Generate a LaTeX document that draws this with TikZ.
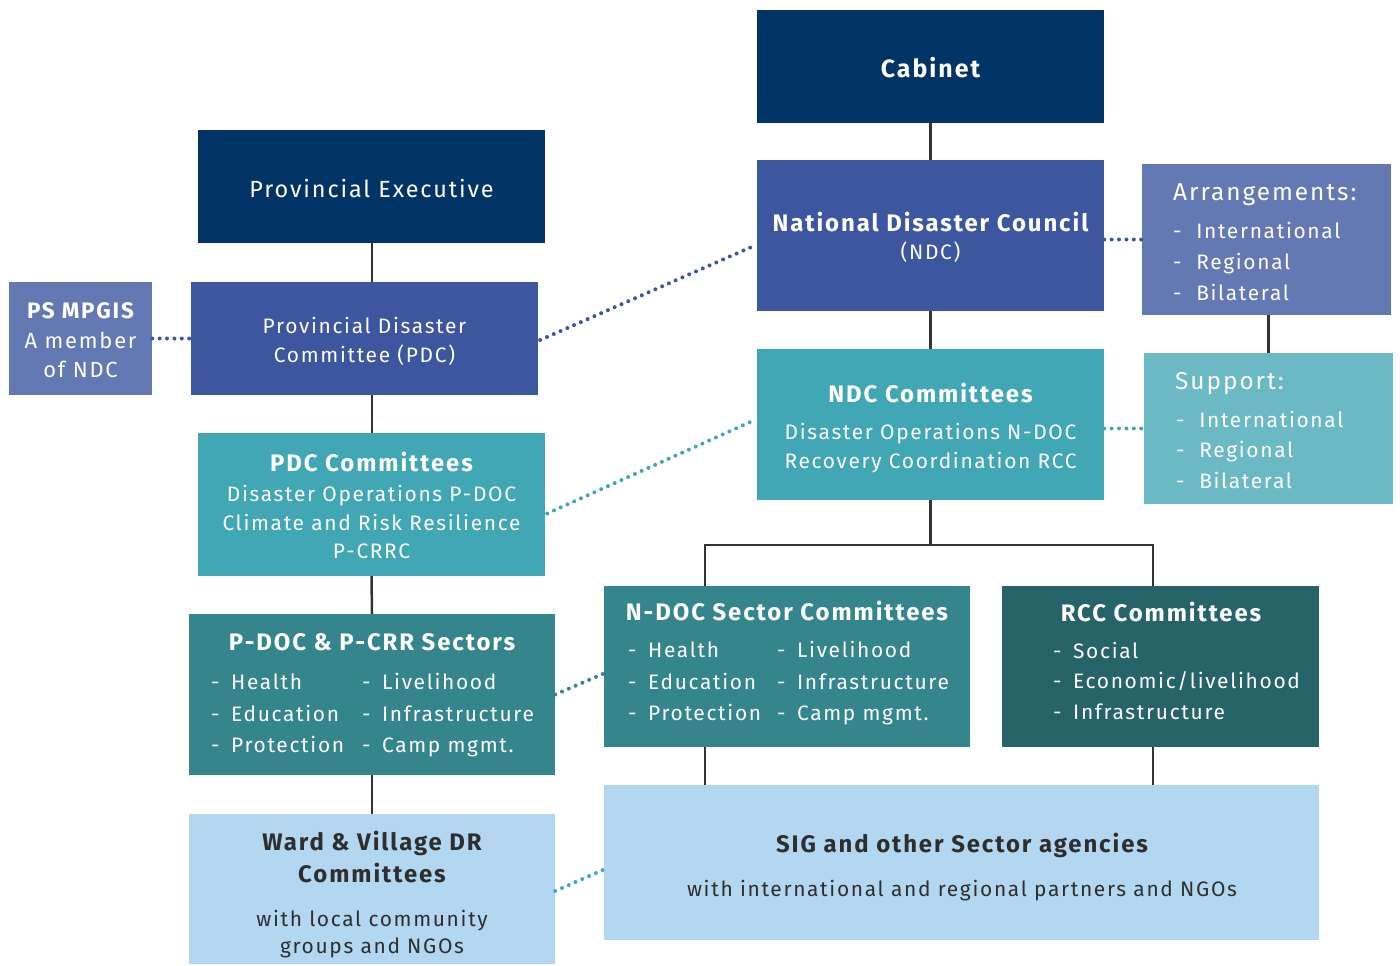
\documentclass[tikz,border=0pt]{standalone}
\usepackage{fontspec}
\setmainfont[LetterSpace=8]{Fira Sans}
\usetikzlibrary{calc}
\definecolor{cNavy}{HTML}{003366}
\definecolor{cBlue}{HTML}{3C56A0}
\definecolor{cLav}{HTML}{6479B4}
\definecolor{cTeal}{HTML}{42A7B4}
\definecolor{cTealL}{HTML}{6BB9C4}
\definecolor{cSea}{HTML}{35858D}
\definecolor{cDeep}{HTML}{27646A}
\definecolor{cSky}{HTML}{B3D7F1}
\definecolor{cDotSky}{HTML}{3AA7E0}
\definecolor{cLine}{HTML}{333333}
\definecolor{cDark}{HTML}{2E2E2E}
\begin{document}
\begin{tikzpicture}[x=1bp,y=-1bp,
  box/.style={rectangle, inner sep=0pt, draw=none},
  tx/.style={inner sep=0pt, text=white, font=\fontsize{21}{25}\selectfont, anchor=base},
  txb/.style={tx, font=\fontsize{24}{28}\selectfont\bfseries},
  txr/.style={tx, font=\fontsize{21}{25}\selectfont},
  txl/.style={tx, anchor=base west},
  txrl/.style={txr, anchor=base west},
  dk/.style={text=cDark},
  link/.style={draw=cLine, line width=2.5bp},
  dots/.style={line width=4bp, line cap=round, dash pattern=on 0bp off 7.4bp}
]
\useasboundingbox (0,0) rectangle (1400,965);
% boxes
\node[box, fill=cNavy, minimum width=347bp, minimum height=113bp] (cab) at (930.5,66) {};
\node[box, fill=cNavy, minimum width=347bp, minimum height=113bp] (pe) at (371.5,186.5) {};
\node[box, fill=cBlue, minimum width=347bp, minimum height=151bp] (ndc) at (930.5,235.5) {};
\node[box, fill=cLav, minimum width=249bp, minimum height=151bp] (arr) at (1266.5,239.5) {};
\node[box, fill=cLav, minimum width=143bp, minimum height=113bp] (ps) at (80.5,338.5) {};
\node[box, fill=cBlue, minimum width=347bp, minimum height=113bp] (pdc) at (364.5,338.5) {};
\node[box, fill=cTeal, minimum width=347bp, minimum height=151bp] (ndcc) at (930.5,424.5) {};
\node[box, fill=cTealL, minimum width=249bp, minimum height=151bp] (sup) at (1268.5,428.5) {};
\node[box, fill=cTeal, minimum width=347bp, minimum height=143bp] (pdcc) at (371.5,504.5) {};
\node[box, fill=cSea, minimum width=366bp, minimum height=161bp] (psec) at (372,694.5) {};
\node[box, fill=cSea, minimum width=366bp, minimum height=161bp] (nsec) at (787,666.5) {};
\node[box, fill=cDeep, minimum width=317bp, minimum height=161bp] (rcc) at (1160.5,666.5) {};
\node[box, fill=cSky, minimum width=366bp, minimum height=150bp] (ward) at (372,889) {};
\node[box, fill=cSky, minimum width=715bp, minimum height=155bp] (sig) at (961.5,862.5) {};
% solid connectors
\draw[link] (cab.south) -- (ndc.north);
\draw[link] (ndc.south) -- (ndcc.north);
\draw[link] ([xshift=0.5bp]pe.south) -- ([xshift=0.5bp]pe.south |- pdc.north);
\draw[link] ([xshift=0.5bp]pdcc.north |- pdc.south) -- ([xshift=0.5bp]pdcc.north);
\draw[link] (pdcc.south) -- (psec.north);
\draw[link] (psec.south) -- (ward.north);
\draw[link] (sup.north |- arr.south) -- (sup.north);
\coordinate (bus) at (930.5,545);
\draw[link] (ndcc.south) -- (bus);
\draw[link] ([xshift=-82bp]nsec.north) |- (bus) -| ([xshift=-7.5bp]rcc.north);
\draw[link] ([xshift=-82bp]nsec.south) -- ([xshift=-82bp]nsec.south |- sig.north);
\draw[link] ([xshift=-7.5bp]rcc.south) -- ([xshift=-7.5bp]rcc.south |- sig.north);
% dotted connectors
\draw[dots, draw=cBlue] (ps.east) -- (pdc.west);
\draw[dots, draw=cBlue] ([xshift=2bp,yshift=-1.5bp]pdc.east) -- ([xshift=-2bp,yshift=-10bp]ndc.west);
\draw[dots, draw=cBlue] (ndc.east |- arr.west) -- (arr.west);
\draw[dots, draw=cTeal] ([xshift=2bp,yshift=-9bp]pdcc.east) -- ([xshift=-1bp,yshift=5bp]ndcc.west);
\draw[dots, draw=cTeal] (ndcc.east |- sup.west) -- (sup.west);
\draw[dots, draw=cSea] (psec.east) -- ([yshift=-7bp]nsec.west);
\draw[dots, draw=cDotSky] ([yshift=-2bp]ward.east) -- ([yshift=-7bp]sig.west);
% texts
\node[txb, font=\fontsize{25}{30}\selectfont\bfseries] (tcab) at (930.5,77) {Cabinet};
\node[txr, font=\fontsize{23.5}{28}\selectfont] (tpe) at (371.5,197) {Provincial Executive};
\node[txb] (tndc1) at (930.5,231) {National Disaster Council};
\node[tx] (tndc2) at (930.5,259) {(NDC)};
\node[txrl, font=\fontsize{24.5}{29}\selectfont] (tarr) at (1173,200) {Arrangements:};
\node[txrl] (tarr1) at (1173,238) {-\hspace{0.7em}International};
\node[txrl] (tarr2) at (1173,269) {-\hspace{0.7em}Regional};
\node[txrl] (tarr3) at (1173,300) {-\hspace{0.7em}Bilateral};
\node[txrl, font=\fontsize{24.5}{29}\selectfont] (tsup) at (1175,389) {Support:};
\node[txrl] (tsup1) at (1176,427) {-\hspace{0.7em}International};
\node[txrl] (tsup2) at (1176,457) {-\hspace{0.7em}Regional};
\node[txrl] (tsup3) at (1176,488) {-\hspace{0.7em}Bilateral};
\node[txb, font=\fontsize{22.5}{26}\selectfont\bfseries] (tps1) at (80.5,318) {PS MPGIS};
\node[tx, font=\fontsize{22}{26}\selectfont] (tps2) at (80.5,348) {A member};
\node[tx, font=\fontsize{22}{26}\selectfont] (tps3) at (80.5,377) {of NDC};
\node[tx] (tpdc1) at (364.5,333) {Provincial Disaster};
\node[tx] (tpdc2) at (364.5,362) {Committee (PDC)};
\node[txb] (tndcc1) at (930.5,402) {NDC Committees};
\node[tx] (tndcc2) at (930.5,439) {Disaster Operations N-DOC};
\node[tx] (tndcc3) at (930.5,468) {Recovery Coordination RCC};
\node[txb] (tpdcc1) at (371.5,471) {PDC Committees};
\node[tx] (tpdcc2) at (371.5,501) {Disaster Operations P-DOC};
\node[tx] (tpdcc3) at (371.5,530) {Climate and Risk Resilience};
\node[tx] (tpdcc4) at (371.5,558) {P-CRRC};
\node[txb] (tps0) at (372,650) {P-DOC \& P-CRR Sectors};
\node[txl] (tpa1) at (211,689) {-\hspace{0.55em}Health};
\node[txl] (tpa2) at (211,721) {-\hspace{0.55em}Education};
\node[txl] (tpa3) at (211,752) {-\hspace{0.55em}Protection};
\node[txl] (tpb1) at (362,689) {-\hspace{0.55em}Livelihood};
\node[txl] (tpb2) at (362,721) {-\hspace{0.55em}Infrastructure};
\node[txl] (tpb3) at (362,752) {-\hspace{0.55em}Camp mgmt.};
\node[txb] (tns0) at (787,620) {N-DOC Sector Committees};
\node[txl] (tna1) at (628,657) {-\hspace{0.55em}Health};
\node[txl] (tna2) at (628,689) {-\hspace{0.55em}Education};
\node[txl] (tna3) at (628,720) {-\hspace{0.55em}Protection};
\node[txl] (tnb1) at (777,657) {-\hspace{0.55em}Livelihood};
\node[txl] (tnb2) at (777,689) {-\hspace{0.55em}Infrastructure};
\node[txl] (tnb3) at (777,720) {-\hspace{0.55em}Camp mgmt.};
\node[txb] (trcc0) at (1161,621) {RCC Committees};
\node[txl] (trc1) at (1053,658) {-\hspace{0.55em}Social};
\node[txl] (trc2) at (1053,688) {-\hspace{0.55em}Economic/livelihood};
\node[txl] (trc3) at (1053,719) {-\hspace{0.55em}Infrastructure};
\node[txb, dk] (tw1) at (372,850) {Ward \& Village DR};
\node[txb, dk] (tw2) at (372,882) {Committees};
\node[tx, dk] (tw3) at (372,926) {with local community};
\node[tx, dk] (tw4) at (372,953) {groups and NGOs};
\node[txb, dk] (tsig1) at (962,852) {SIG and other Sector agencies};
\node[tx, dk] (tsig2) at (962,896) {with international and regional partners and NGOs};
\end{tikzpicture}
\end{document}
